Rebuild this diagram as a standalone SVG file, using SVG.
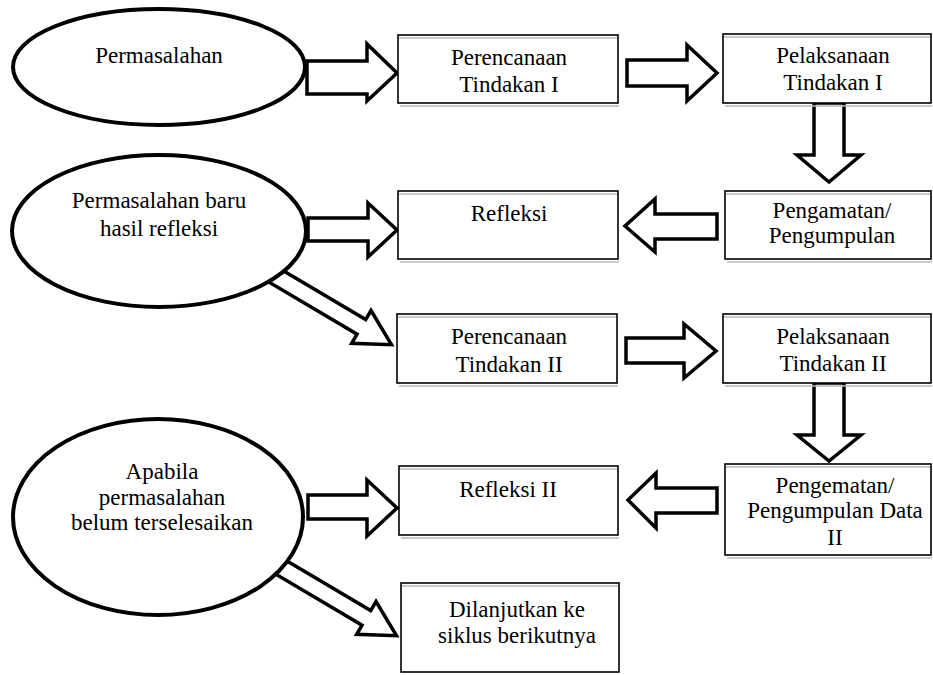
<svg xmlns="http://www.w3.org/2000/svg" width="933" height="675" viewBox="0 0 933 675">
<defs>
<style>
.ell{fill:#fff;stroke:#000;stroke-width:4}
.box{fill:#fff;stroke:#000;stroke-width:1.6}
.sh{stroke:#b8b8b8;stroke-width:1.3;fill:none}
.arr{fill:#fff;stroke:#000;stroke-width:3.5;stroke-linejoin:miter}
.t{font-family:"Liberation Serif","Times New Roman",serif;font-size:23px;fill:#000;text-anchor:middle}
</style>
<polygon id="diag" points="-10,-8.5 98,-8.5 98,-19 133,0 98,19 98,8.5 -10,8.5"/>
</defs>
<rect width="933" height="675" fill="#fff"/>
<g id="connectors">
<polygon class="arr" points="307,61 367,61 367,44 397,73 367,101 367,94 307,94"/>
<polygon class="arr" points="627,60 687,60 687,45 717,73 687,101 687,86 627,86"/>
<polygon class="arr" points="814,103 844,103 844,155 861,155 829,182 797,155 814,155"/>
<polygon class="arr" points="717,214 655,214 655,199 625,226 655,252 655,239 717,239"/>
<polygon class="arr" points="308,218 368,218 368,203 397,230 368,257 368,241 308,241"/>
<use href="#diag" class="arr" transform="translate(277,277) rotate(30.6)"/>
<polygon class="arr" points="626,338 684,338 684,324 716,351 684,378 684,363 626,363"/>
<polygon class="arr" points="814,383 844,383 844,435 861,435 829,461 797,435 814,435"/>
<polygon class="arr" points="717,488 656,488 656,473 628,500 656,528 656,513 717,513"/>
<polygon class="arr" points="308,495 367,495 367,480 397,508 367,536 367,519 308,519"/>
<use href="#diag" class="arr" transform="translate(282,568) rotate(30.6)"/>
</g>
<g id="e1">
<ellipse class="ell" cx="159" cy="67" rx="146" ry="58"/>
<text class="t" x="159" y="63">Permasalahan</text>
</g>
<g id="e2">
<ellipse class="ell" cx="159" cy="231" rx="147" ry="76"/>
<text class="t" x="159" y="208">Permasalahan baru</text>
<text class="t" x="159" y="236">hasil refleksi</text>
</g>
<g id="e3">
<ellipse class="ell" cx="158" cy="517" rx="145" ry="98"/>
<text class="t" x="162" y="479">Apabila</text>
<text class="t" x="162" y="505">permasalahan</text>
<text class="t" x="162" y="530">belum terselesaikan</text>
</g>
<g id="b1">
<rect class="box" x="398" y="35" width="220" height="68"/>
<line class="sh" x1="399" y1="38" x2="617" y2="38"/><line class="sh" x1="400" y1="106" x2="619" y2="106"/>
<text class="t" x="509" y="65">Perencanaan</text>
<text class="t" x="509" y="92">Tindakan I</text>
</g>
<g id="b2">
<rect class="box" x="723" y="34" width="208" height="69"/>
<line class="sh" x1="724" y1="37" x2="930" y2="37"/><line class="sh" x1="725" y1="106" x2="932" y2="106"/>
<text class="t" x="833" y="63">Pelaksanaan</text>
<text class="t" x="833" y="90">Tindakan I</text>
</g>
<g id="b3">
<rect class="box" x="398" y="191" width="220" height="68"/>
<line class="sh" x1="399" y1="194" x2="617" y2="194"/><line class="sh" x1="400" y1="262" x2="619" y2="262"/>
<text class="t" x="509" y="221">Refleksi</text>
</g>
<g id="b4">
<rect class="box" x="725" y="191" width="206" height="68"/>
<line class="sh" x1="726" y1="194" x2="930" y2="194"/><line class="sh" x1="727" y1="262" x2="932" y2="262"/>
<text class="t" x="832" y="218">Pengamatan/</text>
<text class="t" x="832" y="243">Pengumpulan</text>
</g>
<g id="b5">
<rect class="box" x="397" y="314" width="220" height="69"/>
<line class="sh" x1="398" y1="317" x2="616" y2="317"/><line class="sh" x1="399" y1="386" x2="618" y2="386"/>
<text class="t" x="509" y="344">Perencanaan</text>
<text class="t" x="509" y="372">Tindakan II</text>
</g>
<g id="b6">
<rect class="box" x="723" y="314" width="208" height="69"/>
<line class="sh" x1="724" y1="317" x2="930" y2="317"/><line class="sh" x1="725" y1="386" x2="932" y2="386"/>
<text class="t" x="833" y="344">Pelaksanaan</text>
<text class="t" x="833" y="371">Tindakan II</text>
</g>
<g id="b7">
<rect class="box" x="399" y="466" width="219" height="69"/>
<line class="sh" x1="400" y1="469" x2="617" y2="469"/><line class="sh" x1="401" y1="538" x2="619" y2="538"/>
<text class="t" x="508" y="497">Refleksi II</text>
</g>
<g id="b8">
<rect class="box" x="725" y="464" width="206" height="91"/>
<line class="sh" x1="726" y1="467" x2="930" y2="467"/><line class="sh" x1="727" y1="558" x2="932" y2="558"/>
<text class="t" x="835" y="493">Pengematan/</text>
<text class="t" x="835" y="518">Pengumpulan Data</text>
<text class="t" x="835" y="545">II</text>
</g>
<g id="b9">
<rect class="box" x="401" y="583" width="218" height="89"/>
<line class="sh" x1="402" y1="586" x2="618" y2="586"/>
<text class="t" x="517" y="617">Dilanjutkan ke</text>
<text class="t" x="517" y="643">siklus berikutnya</text>
</g>
</svg>
